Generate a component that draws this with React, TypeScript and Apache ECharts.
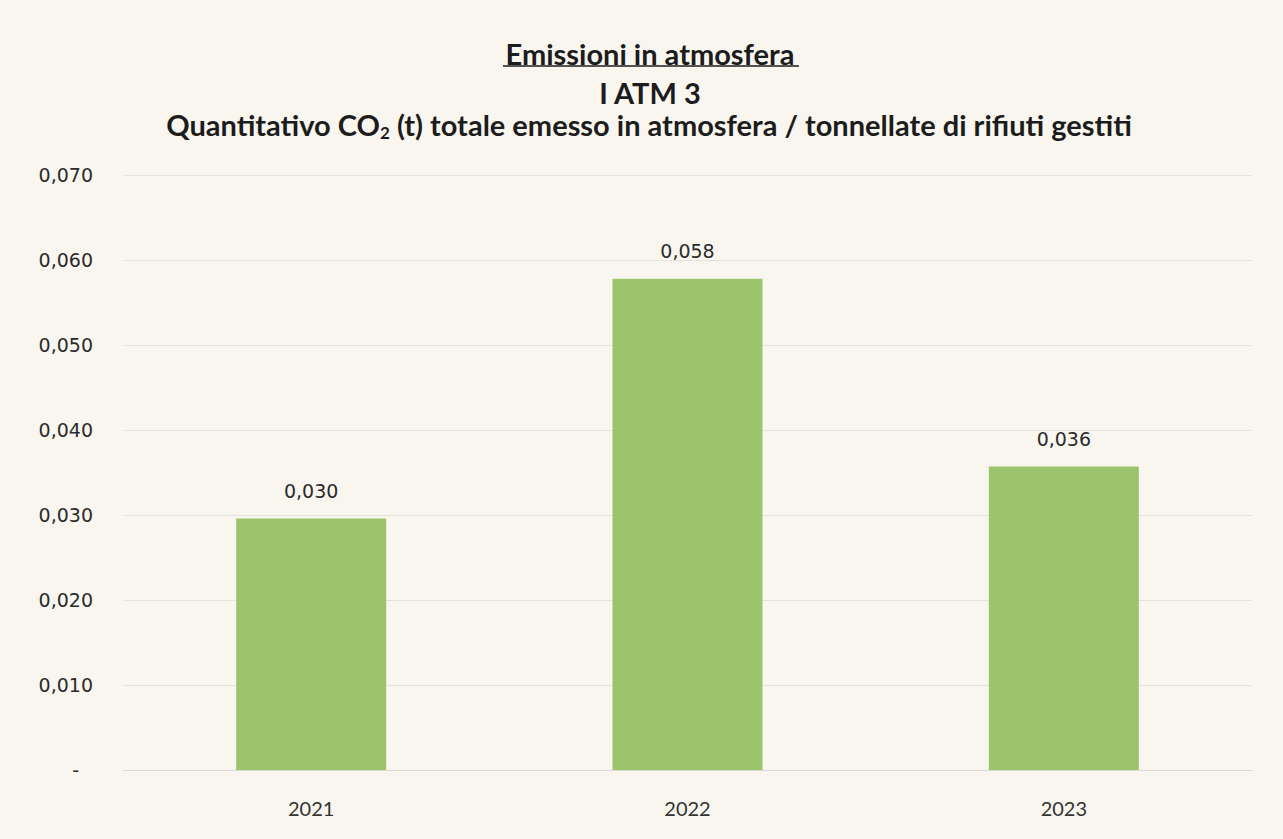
import React, { useEffect, useRef } from "react";
import * as echarts from "echarts";

const categories = ["2021", "2022", "2023"];
const values = [0.0296, 0.0578, 0.0357];
const yTicks = { min: 0, max: 0.07, interval: 0.01 };
const titleLine1 = "Emissioni in atmosfera";
const titleLine2 = "I ATM 3";
const titleLine3a = "Quantitativo CO";
const titleLine3sub = "2";
const titleLine3b = " (t) totale emesso in atmosfera / tonnellate di rifiuti gestiti";

const fmt = (v: number) => (v === 0 ? "-" : v.toFixed(3).replace(".", ","));

const TITLE_FONT = "bold 29px Lato";
const TITLE_COLOR = "#1c1c1c";

export default function App() {
  const ref = useRef<HTMLDivElement>(null);
  useEffect(() => {
    if (!ref.current) return;
    const chart = echarts.init(ref.current, null, { renderer: "svg" });
    chart.setOption({
      animation: false,
      backgroundColor: "#f8f6ef",
      graphic: [
        {
          type: "text",
          x: 650,
          y: 53,
          style: { text: titleLine1, font: TITLE_FONT, fill: TITLE_COLOR, align: "center", verticalAlign: "middle" },
        },
        {
          type: "line",
          shape: { x1: 503, y1: 66, x2: 799, y2: 66 },
          style: { stroke: "#1c1c1c", lineWidth: 1.6 },
        },
        {
          type: "text",
          x: 650,
          y: 92,
          style: { text: titleLine2, font: TITLE_FONT, fill: TITLE_COLOR, align: "center", verticalAlign: "middle" },
        },
        {
          type: "text",
          x: 649,
          y: 124,
          style: {
            text: `{a|${titleLine3a}}{s|${titleLine3sub}}{a|${titleLine3b}}`,
            align: "center",
            verticalAlign: "middle",
            rich: {
              a: { font: TITLE_FONT, fill: TITLE_COLOR, color: TITLE_COLOR, lineHeight: 34 },
              s: { font: "bold 17px Lato", fill: TITLE_COLOR, color: TITLE_COLOR, padding: [16, 0, 0, 0], lineHeight: 34 },
            },
          },
        },
      ],
      grid: { left: 123, right: 31, top: 175, bottom: 69 },
      xAxis: {
        type: "category",
        data: categories,
        axisTick: { show: false },
        axisLine: { lineStyle: { color: "#dcdad2" } },
        axisLabel: { margin: 28, fontFamily: "Lato", fontSize: 20, color: "#333" },
      },
      yAxis: {
        type: "value",
        min: yTicks.min,
        max: yTicks.max,
        interval: yTicks.interval,
        axisLine: { show: false },
        axisTick: { show: false },
        splitLine: { lineStyle: { color: "#e4e2da", width: 1 } },
        axisLabel: {
          margin: 30,
          fontFamily: "DejaVu Sans",
          fontSize: 19,
          color: "#2b2b2b",
          formatter: (v: number) => (v === 0 ? "{d|-}" : fmt(v)),
          rich: {
            d: { fontFamily: "DejaVu Sans", fontSize: 19, color: "#2b2b2b", padding: [0, 14, 0, 0] },
          },
        },
      },
      series: [
        {
          type: "bar",
          data: values,
          barWidth: 150,
          itemStyle: { color: "#9cc46c" },
          label: {
            show: true,
            position: "top",
            distance: 18,
            fontFamily: "DejaVu Sans",
            fontSize: 19,
            color: "#2b2b2b",
            formatter: (p: any) => fmt(p.value),
          },
        },
      ],
    });
    return () => chart.dispose();
  }, []);
  return <div ref={ref} style={{ position: "fixed", left: 0, top: 0, width: 1283, height: 839 }} />;
}
